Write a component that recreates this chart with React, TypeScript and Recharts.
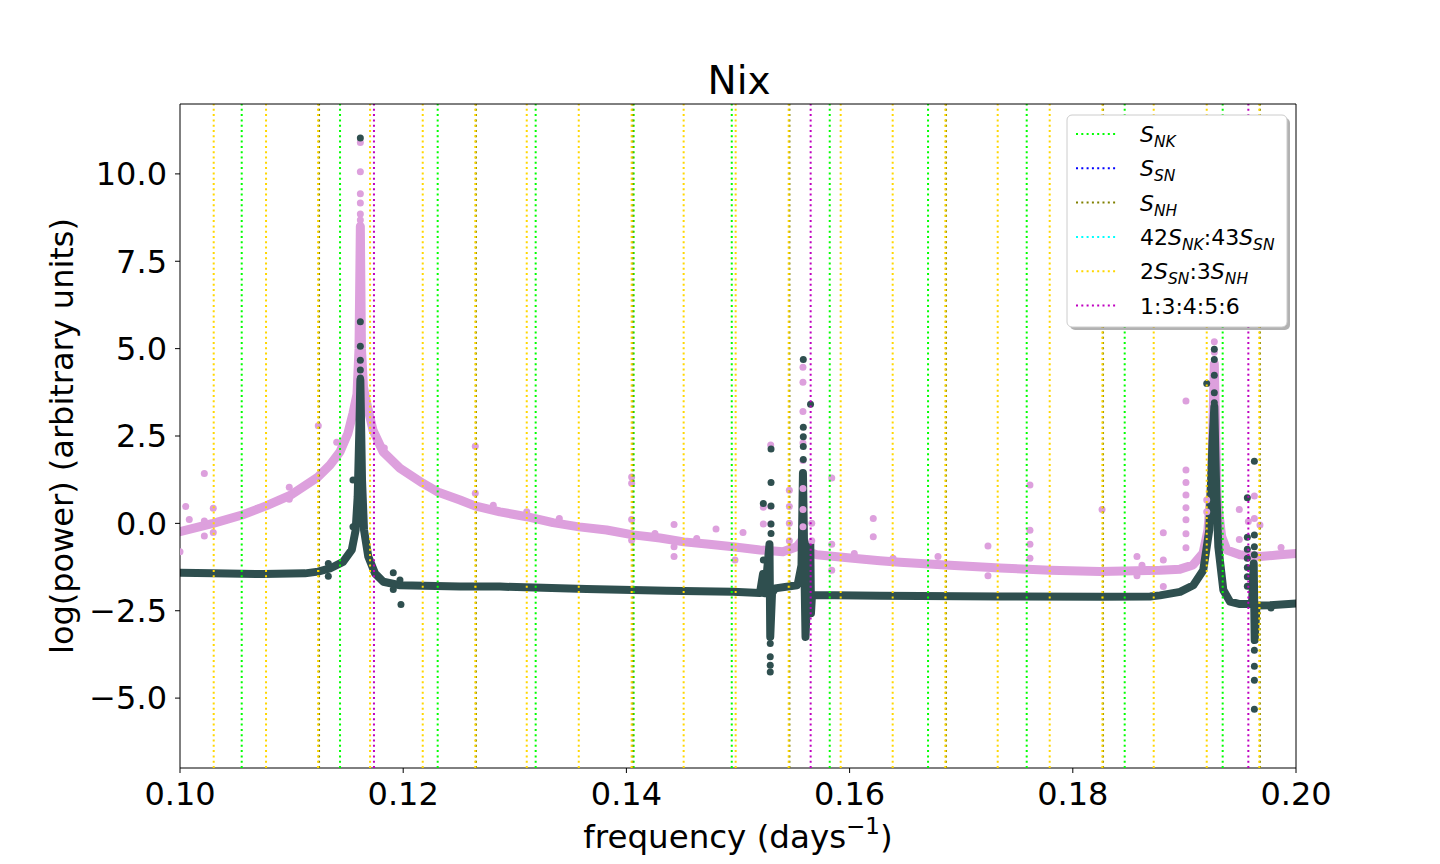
import React from "react";
import { ComposedChart, Line, XAxis, YAxis, ReferenceLine } from "recharts";

// frequency (days^-1), log(power)
const xTicks = [0.1, 0.12, 0.14, 0.16, 0.18, 0.2];
const yTicks = [-5, -2.5, 0, 2.5, 5, 7.5, 10];
const xDomain: [number, number] = [0.1, 0.2];
const yDomain: [number, number] = [-7, 12];

// dense plum series (main trend of the scatter band)
const pinkBand: [number, number][] = [
  [0.1, -0.24], [0.10296, 0.0], [0.10556, 0.24], [0.10771, 0.5], [0.10986, 0.8],
  [0.11237, 1.33], [0.11344, 1.67], [0.11434, 2.05], [0.11505, 2.58], [0.1155, 3.15],
  [0.11586, 3.7], [0.11604, 5.0], [0.11616, 8.5], [0.11626, 5.0], [0.11644, 3.9],
  [0.11673, 3.44], [0.11729, 2.67], [0.11819, 2.05], [0.11971, 1.58], [0.12175, 1.15],
  [0.12309, 0.9], [0.12509, 0.67], [0.12643, 0.5], [0.12867, 0.33], [0.13107, 0.19],
  [0.13342, 0.02], [0.13575, -0.1], [0.13823, -0.19], [0.14059, -0.33], [0.14301, -0.42],
  [0.14516, -0.53], [0.1472, -0.59], [0.14955, -0.67], [0.15197, -0.76], [0.15403, -0.81],
  [0.15526, -0.67], [0.15582, -0.45], [0.15609, -0.8], [0.15705, -0.9], [0.1603, -1.0],
  [0.16272, -1.07], [0.16452, -1.11], [0.169, -1.2], [0.17348, -1.28], [0.17796, -1.34],
  [0.18244, -1.38], [0.18781, -1.34], [0.18961, -1.31], [0.19077, -1.19], [0.19167, -0.85],
  [0.19211, -0.19], [0.19245, 1.24], [0.19268, 4.57], [0.19292, 0.76], [0.19334, -0.38],
  [0.19379, -0.76], [0.19498, -0.9], [0.19677, -0.95], [0.19857, -0.9], [0.2, -0.86],
];

// dense dark slate series
const darkBand: [number, number][] = [
  [0.1, -1.41], [0.10296, -1.43], [0.10744, -1.45], [0.1112, -1.43], [0.11237, -1.38],
  [0.11344, -1.29], [0.11461, -1.1], [0.11539, -0.76], [0.11574, -0.19], [0.11592, 0.76],
  [0.11607, 2.67], [0.11616, 4.1], [0.11631, 1.24], [0.11649, -0.19], [0.11687, -0.95],
  [0.11747, -1.43], [0.11822, -1.67], [0.11971, -1.77], [0.12509, -1.81], [0.12867, -1.81],
  [0.13644, -1.88], [0.14361, -1.93], [0.14955, -1.96], [0.15197, -1.99], [0.15224, -1.45],
  [0.15242, -2.0], [0.15282, -0.6], [0.15289, -3.25], [0.15305, -2.0], [0.15332, -1.86],
  [0.15529, -1.77], [0.15538, -1.7], [0.15569, -1.2], [0.15582, 1.44], [0.15596, -1.5],
  [0.15605, -3.25], [0.15618, -2.2], [0.15641, -2.05], [0.15648, -0.6], [0.15654, -2.57],
  [0.15663, -2.05], [0.16272, -2.07], [0.17348, -2.09], [0.18244, -2.1], [0.18692, -2.09],
  [0.18781, -2.06], [0.18961, -1.96], [0.1908, -1.77], [0.19169, -1.34], [0.19223, -0.19],
  [0.1925, 2.19], [0.19268, 3.34], [0.19283, 1.24], [0.19304, -0.67], [0.19349, -1.91],
  [0.19409, -2.24], [0.19498, -2.31], [0.19606, -2.3], [0.19621, -1.15], [0.1963, -3.34],
  [0.19646, -2.35], [0.19767, -2.34], [0.2, -2.29],
];

// isolated plum points
const pinkOutliers: [number, number][] = [
  [0.10218, 1.43], [0.10051, 0.48], [0.10083, 0.11], [0.10218, 0.07], [0.10218, -0.36],
  [0.10298, 0.43], [0.10298, -0.26], [0.1, -0.81], [0.11239, 2.79], [0.11404, 2.32],
  [0.10979, 1.03], [0.10979, 0.69], [0.10693, 0.43], [0.11831, 2.16],
  [0.11616, 8.68], [0.11616, 8.85], [0.11616, 9.17], [0.11616, 9.43], [0.11616, 10.06], [0.11616, 10.9],
  [0.12646, 2.21], [0.12646, 0.86], [0.12807, 0.52], [0.13107, 0.33], [0.13399, 0.14],
  [0.14047, 1.33], [0.14047, 1.15], [0.14047, 0.11], [0.14047, -0.48], [0.14256, -0.29],
  [0.14427, -0.03], [0.14427, -0.95], [0.14427, -0.67], [0.1463, -0.43], [0.14803, -0.16],
  [0.15045, -0.26], [0.14973, -1.05], [0.15227, -0.02], [0.15227, 0.46], [0.15293, 2.24],
  [0.15293, 0.48], [0.15293, -0.02], [0.1546, 0.95], [0.1546, 0.48], [0.1546, 0.0], [0.1546, -0.5],
  [0.15582, 4.47], [0.15582, 4.04], [0.15582, 3.2], [0.15582, 2.3], [0.15582, 1.8], [0.15582, 1.0],
  [0.15582, 0.4], [0.15582, -0.1], [0.15661, 0.0], [0.15661, -0.5], [0.1584, 1.3], [0.1584, -1.34],
  [0.1584, -0.6], [0.16212, 0.14], [0.16212, -0.38], [0.16042, -0.86],
  [0.16389, -1.0], [0.16792, -1.2], [0.16792, -0.95], [0.1724, -0.65], [0.1724, -1.5],
  [0.17616, 1.1], [0.17616, -0.2], [0.17616, -0.6], [0.17616, -1.0], [0.18262, 0.4],
  [0.18575, -0.95], [0.18575, -1.5], [0.1862, -1.2], [0.18811, -0.27], [0.18811, -1.05], [0.18811, -1.81],
  [0.19014, 3.5], [0.19014, 1.53], [0.19014, 1.17], [0.19014, 0.81], [0.19014, 0.45], [0.19014, 0.1],
  [0.19014, -0.3], [0.19014, -0.7], [0.192, 0.67], [0.192, 0.33], [0.19492, 0.4], [0.19492, -0.46],
  [0.19627, 0.78], [0.19627, 0.14], [0.19573, 0.05], [0.19677, -0.05], [0.19866, -0.69],
  [0.19268, 5.2], [0.19268, 4.9],
];

// isolated dark slate points
const darkOutliers: [number, number][] = [
  [0.11616, 11.03], [0.11616, 5.77], [0.11616, 5.07], [0.11616, 4.67], [0.11616, 4.39], [0.11616, 4.16],
  [0.1155, 1.24], [0.1155, -0.1], [0.11329, -1.15], [0.11329, -1.51], [0.11911, -1.41],
  [0.11911, -1.89], [0.11971, -1.62], [0.1198, -2.32],
  [0.15227, 0.57], [0.15227, -1.05], [0.15296, 2.13], [0.15296, 1.17], [0.15296, 0.5],
  [0.15296, -0.02], [0.15296, -0.29], [0.15289, -3.44], [0.15289, -3.82], [0.15289, -4.06],
  [0.15289, -4.25], [0.15585, 4.69], [0.15585, 2.75], [0.15585, 2.48], [0.15585, 2.2],
  [0.15585, 1.83], [0.1565, 3.41],
  [0.192, 4.0], [0.19268, 4.98], [0.19268, 4.69], [0.19268, 4.24], [0.19268, 3.74], [0.19268, 3.45],
  [0.19564, 0.73], [0.19564, -0.4], [0.19564, -0.74], [0.19564, -1.0], [0.19564, -1.26],
  [0.19564, -1.53], [0.19564, -1.8], [0.19627, 1.78], [0.19627, -0.33], [0.19627, -0.67],
  [0.19627, -0.9], [0.19627, -3.63], [0.19627, -4.09], [0.19627, -4.49], [0.19627, -5.32],
  [0.19776, -2.42],
];

// resonance frequencies (vertical dotted lines)
const snkLines = [0.10553, 0.11434, 0.12309, 0.13187, 0.14065, 0.14944, 0.15822, 0.16703, 0.17587, 0.18465, 0.19343];
const ssnLines: number[] = [];
const snhLines = [0.11246, 0.12652, 0.14055, 0.15461, 0.16864, 0.18271, 0.19677];
const ratio4243Lines: number[] = [];
const ratio23Lines = [
  0.10302, 0.10771, 0.11237, 0.11703, 0.12175, 0.12646, 0.13107, 0.13573, 0.14047, 0.14513, 0.14979,
  0.15454, 0.1592, 0.16386, 0.16858, 0.17327, 0.17793, 0.18265, 0.18725, 0.192, 0.19671,
];
const ratio13456Lines = [0.11738, 0.15651, 0.19573];

const PINK = "#dda0dd";
const DARK = "#2f4f4f";

const lineGroups = [
  { key: "snk", values: snkLines, color: "#00ff00" },
  { key: "ssn", values: ssnLines, color: "#0000ff" },
  { key: "snh", values: snhLines, color: "#808000" },
  { key: "r4243", values: ratio4243Lines, color: "#00ffff" },
  { key: "r23", values: ratio23Lines, color: "#ffd700" },
  { key: "r13456", values: ratio13456Lines, color: "#c000c0" },
];

const rows = (pts: [number, number][]) => pts.map(([f, p]) => ({ f, p }));

const FONT = "'DejaVu Sans', sans-serif";
const DOTS = "2 3.3";

const fmtY = (v: number) => v.toFixed(1).replace("-", "\u2212");

function XLabel(props: any) {
  const vb = props.viewBox;
  return (
    <text x={vb.x + vb.width / 2} y={vb.y + 80} textAnchor="middle" fontSize={32.5} fill="#000" fontFamily={FONT}>
      frequency (days
      <tspan fontSize={23} dy={-14}>{"\u22121"}</tspan>
      <tspan dy={14}>)</tspan>
    </text>
  );
}

function YLabel(props: any) {
  const vb = props.viewBox;
  const x = vb.x + 73;
  const y = vb.y + vb.height / 2;
  return (
    <text x={x} y={y} transform={`rotate(-90 ${x} ${y})`} textAnchor="middle" fontSize={32} fill="#000" fontFamily={FONT}>
      log(power) (arbitrary units)
    </text>
  );
}

// legend labels: plain, italic S, italic subscript pieces
type Piece = { t: string; k: "n" | "s" | "b" };
const legendRows: { color: string; pieces: Piece[] }[] = [
  { color: "#00ff00", pieces: [{ t: "S", k: "s" }, { t: "NK", k: "b" }] },
  { color: "#0000ff", pieces: [{ t: "S", k: "s" }, { t: "SN", k: "b" }] },
  { color: "#808000", pieces: [{ t: "S", k: "s" }, { t: "NH", k: "b" }] },
  {
    color: "#00ffff",
    pieces: [
      { t: "42", k: "n" }, { t: "S", k: "s" }, { t: "NK", k: "b" },
      { t: ":43", k: "n" }, { t: "S", k: "s" }, { t: "SN", k: "b" },
    ],
  },
  {
    color: "#ffd700",
    pieces: [
      { t: "2", k: "n" }, { t: "S", k: "s" }, { t: "SN", k: "b" },
      { t: ":3", k: "n" }, { t: "S", k: "s" }, { t: "NH", k: "b" },
    ],
  },
  { color: "#c000c0", pieces: [{ t: "1:3:4:5:6", k: "n" }] },
];

function LegendText({ pieces, x, y }: { pieces: Piece[]; x: number; y: number }) {
  let low = false;
  return (
    <text x={x} y={y} fontSize={22} fill="#000" fontFamily={FONT}>
      {pieces.map((p, i) => {
        let dy = 0;
        if (p.k === "b" && !low) { dy = 5; low = true; }
        else if (p.k !== "b" && low) { dy = -5; low = false; }
        return (
          <tspan
            key={i}
            dy={dy}
            fontStyle={p.k === "n" ? "normal" : "italic"}
            fontSize={p.k === "b" ? 15.5 : 22}
          >
            {p.t}
          </tspan>
        );
      })}
    </text>
  );
}

function Overlay() {
  const lx = 1067;
  const ly = 115;
  return (
    <svg width={1440} height={864} style={{ position: "absolute", left: 0, top: 0, pointerEvents: "none" }}>
      <text x={739} y={94} textAnchor="middle" fontSize={39} fill="#000" fontFamily={FONT}>
        Nix
      </text>
      <rect x={lx + 3} y={ly + 3} width={220} height={212} rx={5} fill="#000" opacity={0.3} />
      <rect x={lx} y={ly} width={220} height={212} rx={5} fill="#fff" stroke="#cccccc" strokeWidth={1} />
      {legendRows.map((r, i) => {
        const cy = 134 + i * 34.3;
        return (
          <g key={i}>
            <line x1={1076} x2={1117} y1={cy} y2={cy} stroke={r.color} strokeWidth={2} strokeDasharray={DOTS} />
            <LegendText pieces={r.pieces} x={1140} y={cy + 8} />
          </g>
        );
      })}
    </svg>
  );
}

export default function App() {
  return (
    <div style={{ position: "absolute", left: 0, top: 0, width: 1440, height: 864, background: "#fff", fontFamily: FONT }}>
      <ComposedChart width={1440} height={864} margin={{ top: 104, right: 144, bottom: 36, left: 0 }}>
        <XAxis
          dataKey="f"
          type="number"
          domain={xDomain}
          ticks={xTicks}
          tickFormatter={(v: number) => v.toFixed(2)}
          height={60}
          tickSize={5}
          tickMargin={9}
          tick={{ fill: "#000", fontSize: 32, fontFamily: FONT }}
          tickLine={{ stroke: "#000" }}
          axisLine={{ stroke: "#000" }}
          allowDataOverflow
          label={(p: any) => <XLabel {...p} />}
        />
        <YAxis
          type="number"
          domain={yDomain}
          ticks={yTicks}
          tickFormatter={fmtY}
          width={180}
          tickSize={5}
          tickMargin={8}
          tick={{ fill: "#000", fontSize: 32, fontFamily: FONT }}
          tickLine={{ stroke: "#000" }}
          axisLine={{ stroke: "#000" }}
          allowDataOverflow
          label={(p: any) => <YLabel {...p} />}
        />

        <Line data={rows(pinkBand)} dataKey="p" type="linear" stroke={PINK} strokeWidth={9} strokeLinecap="round" strokeLinejoin="round" dot={false} activeDot={false} isAnimationActive={false} />
        <Line data={rows(pinkOutliers)} dataKey="p" stroke="none" strokeWidth={0} dot={{ r: 3.5, fill: PINK, stroke: "none" }} activeDot={false} isAnimationActive={false} />
        <Line data={rows(darkBand)} dataKey="p" type="linear" stroke={DARK} strokeWidth={8} strokeLinecap="round" strokeLinejoin="round" dot={false} activeDot={false} isAnimationActive={false} />
        <Line data={rows(darkOutliers)} dataKey="p" stroke="none" strokeWidth={0} dot={{ r: 3.5, fill: DARK, stroke: "none" }} activeDot={false} isAnimationActive={false} />

        {lineGroups.map((g) =>
          g.values.map((v) => (
            <ReferenceLine key={`${g.key}-${v}`} x={v} stroke={g.color} strokeWidth={2} strokeDasharray={DOTS} zIndex={1000} />
          ))
        )}

        {/* top and right spines */}
        <ReferenceLine y={yDomain[1]} stroke="#000" strokeWidth={1} zIndex={1000} />
        <ReferenceLine x={xDomain[1]} stroke="#000" strokeWidth={1} zIndex={1000} />
      </ComposedChart>
      <Overlay />
    </div>
  );
}
